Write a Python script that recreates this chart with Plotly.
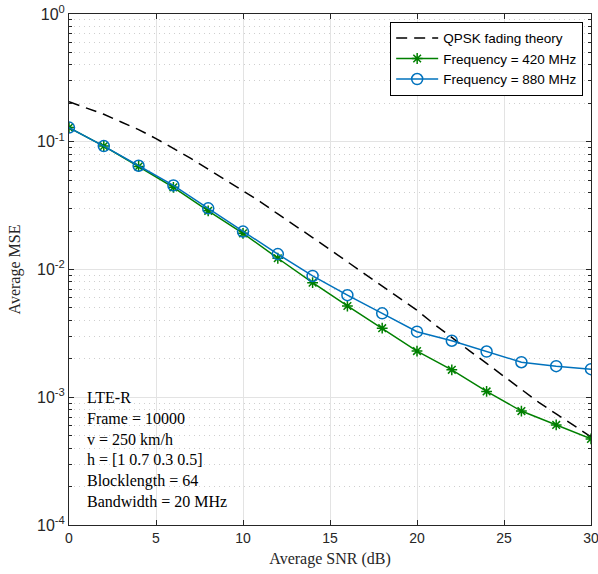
import plotly.graph_objects as go

snr_theory = list(range(0, 31))
mse_theory = [0.2056, 0.1841, 0.1641, 0.1429, 0.1245, 0.1059, 0.0891, 0.0741, 0.0610, 0.0501,
              0.0417, 0.0339, 0.0272, 0.0221, 0.0178, 0.0143, 0.0115, 0.00912, 0.00733, 0.00589,
              0.00479, 0.00372, 0.00292, 0.00232, 0.00184, 0.00145, 0.00115, 0.000912, 0.000741,
              0.000603, 0.000490]

snr = [0, 2, 4, 6, 8, 10, 12, 14, 16, 18, 20, 22, 24, 26, 28, 30]
mse_420 = [0.129, 0.0925, 0.064, 0.044, 0.0288, 0.0192, 0.01225, 0.00789, 0.00518, 0.00347,
           0.0023, 0.00164, 0.00111, 0.00078, 0.000607, 0.000472]
mse_880 = [0.129, 0.0925, 0.0649, 0.0455, 0.0301, 0.0198, 0.0132, 0.0089, 0.0063, 0.00454,
           0.00326, 0.00277, 0.00228, 0.00188, 0.00175, 0.00166]

y_tickvals = [1e-4, 1e-3, 1e-2, 1e-1, 1]
y_ticktext = ["10<sup>-4</sup>", "10<sup>-3</sup>", "10<sup>-2</sup>", "10<sup>-1</sup>", "10<sup>0</sup>"]
x_tickvals = [0, 5, 10, 15, 20, 25, 30]

info_lines = ["LTE-R", "Frame = 10000", "v = 250 km/h", "h = [1 0.7 0.3 0.5]",
              "Blocklength = 64", "Bandwidth = 20 MHz"]

fig = go.Figure()
fig.add_trace(go.Scatter(x=snr_theory, y=mse_theory, mode="lines", name="QPSK fading theory",
                         line=dict(color="black", width=1.5, dash="11px,7px")))
fig.add_trace(go.Scatter(x=snr, y=mse_420, mode="lines+markers", name="Frequency = 420 MHz",
                         line=dict(color="#008000", width=1.5),
                         marker=dict(symbol="asterisk-open", size=9, color="#008000",
                                     line=dict(color="#008000", width=1.5))))
fig.add_trace(go.Scatter(x=snr, y=mse_880, mode="lines+markers", name="Frequency = 880 MHz",
                         line=dict(color="#0072BD", width=1.5),
                         marker=dict(symbol="circle-open", size=11, color="#0072BD",
                                     line=dict(color="#0072BD", width=1.5))))

fig.add_annotation(xref="paper", yref="paper", x=0.03, y=0.025, xanchor="left", yanchor="bottom",
                   align="left", showarrow=False, text="<br>".join(info_lines),
                   font=dict(family="Liberation Serif, DejaVu Serif, serif", size=16, color="black"))

fig.update_layout(
    width=598, height=574,
    margin=dict(l=69, r=7, t=14, b=49, autoexpand=False),
    paper_bgcolor="white", plot_bgcolor="white",
    showlegend=True,
    legend=dict(x=0.985, y=0.985, xanchor="right", yanchor="top",
                bgcolor="white", bordercolor="black", borderwidth=1,
                font=dict(family="Liberation Sans, Arial, sans-serif", size=13.5, color="black"),
                itemwidth=42, tracegroupgap=0),
    font=dict(family="Liberation Sans, Arial, sans-serif", size=14, color="#262626"),
)
fig.update_xaxes(range=[0, 30], tickvals=x_tickvals, ticks="inside", ticklen=5, automargin=False,
                 ticklabeloverflow="allow",
                 tickcolor="#262626", showline=True, linecolor="#262626", linewidth=1, mirror="ticks",
                 showgrid=True, gridcolor="#e3e3e3", gridwidth=1, zeroline=False,
                 tickfont=dict(size=14),
                 title=dict(text="Average SNR (dB)", standoff=8,
                            font=dict(family="Liberation Serif, DejaVu Serif, serif", size=16, color="#262626")))
fig.update_yaxes(type="log", range=[-4, 0], tickvals=y_tickvals, ticktext=y_ticktext, automargin=False,
                 ticklabeloverflow="allow",
                 ticks="inside", ticklen=5, tickcolor="#262626",
                 showline=True, linecolor="#262626", linewidth=1, mirror="ticks",
                 showgrid=True, gridcolor="#e3e3e3", gridwidth=1, zeroline=False,
                 tickfont=dict(size=16),
                 minor=dict(ticks="inside", ticklen=3, tickcolor="#262626", showgrid=True,
                            gridcolor="#cfcfcf", griddash="1px,4px", gridwidth=1, dtick="D1"),
                 title=dict(text="Average MSE", standoff=12,
                            font=dict(family="Liberation Serif, DejaVu Serif, serif", size=16, color="#262626")))

fig.write_html("out.html")
